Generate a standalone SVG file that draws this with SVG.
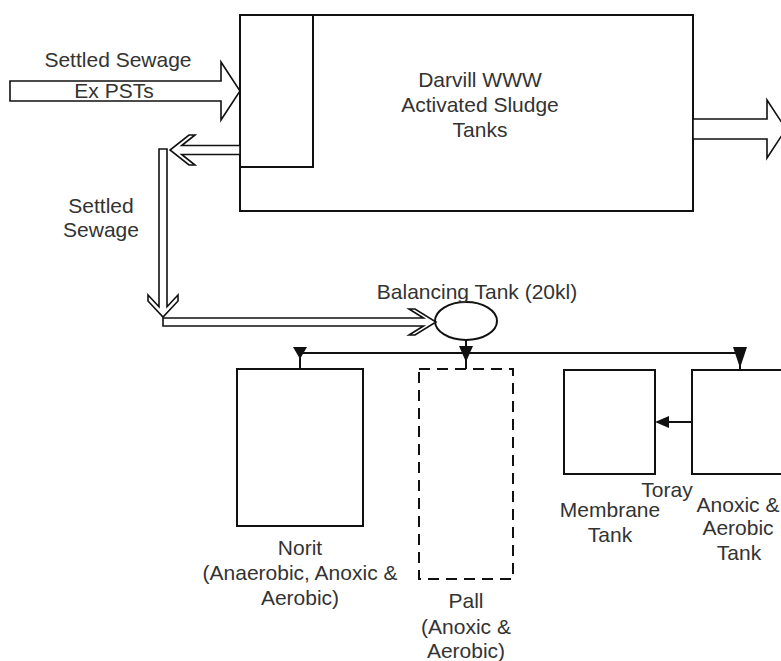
<svg xmlns="http://www.w3.org/2000/svg" width="781" height="661" viewBox="0 0 781 661">
<style>
.box{fill:#fff;stroke:#111;stroke-width:2}
.dash{fill:none;stroke:#111;stroke-width:2;stroke-dasharray:11 7}
.hollow{fill:#fff;stroke:#111;stroke-width:1.6;stroke-linejoin:miter}
.line{fill:none;stroke:#111;stroke-width:2}
.tri{fill:#111;stroke:none}
text{font-family:"Liberation Sans",Arial,sans-serif;font-size:21px;fill:#333;text-anchor:middle}
</style>
<rect width="781" height="661" fill="#fff"/>
<g id="activated-sludge">
<rect class="box" x="240" y="15" width="453" height="196"/>
<rect class="box" x="240" y="15" width="73" height="152"/>
<text x="480" y="87">Darvill WWW</text>
<text x="480" y="112">Activated Sludge</text>
<text x="480" y="137">Tanks</text>
</g>
<g id="balancing-tank">
<ellipse class="box" cx="466" cy="321" rx="31" ry="19"/>
<text x="477" y="299">Balancing Tank (20kl)</text>
</g>
<g id="norit">
<rect class="box" x="237" y="369" width="126" height="157"/>
<text x="300" y="555">Norit</text>
<text x="300" y="580">(Anaerobic, Anoxic &amp;</text>
<text x="300" y="605">Aerobic)</text>
</g>
<g id="pall">
<rect class="dash" x="419" y="369" width="94" height="210"/>
<text x="466" y="608">Pall</text>
<text x="466" y="634">(Anoxic &amp;</text>
<text x="466" y="658">Aerobic)</text>
</g>
<g id="membrane-tank">
<rect class="box" x="564" y="370" width="91" height="104"/>
<text x="667" y="497">Toray</text>
<text x="610" y="517">Membrane</text>
<text x="610" y="542">Tank</text>
</g>
<g id="anoxic-aerobic-tank">
<rect class="box" x="692" y="370" width="110" height="104"/>
<text x="738" y="512">Anoxic &amp;</text>
<text x="738" y="535">Aerobic</text>
<text x="739" y="560">Tank</text>
</g>
<g id="connectors">
<polygon class="hollow" points="10,81 221,81 221,62 240,91 221,120 221,101 10,101"/>
<polygon class="hollow" points="693,119 767,119 767,100 786,129 767,158 767,139 693,139"/>
<polygon class="hollow" points="240,145.5 181.7,145.5 195,135 189,135 170,150 189,165 195,165 181.7,154.5 240,154.5"/>
<polygon class="hollow" points="159,149 159,306.7 148,295 148,301 163,317 178,301 178,295 167,306.7 167,149"/>
<polygon class="hollow" points="163,318 423.5,318 409,309 415,309 436,322 415,335 409,335 423.5,326 163,326"/>
<line class="line" x1="300" y1="353" x2="740" y2="353"/>
<line class="line" x1="300" y1="353" x2="300" y2="369"/>
<polygon class="tri" points="293,347 307,347 300,359"/>
<line class="line" x1="466" y1="340" x2="466" y2="369"/>
<polygon class="tri" points="459,346 473,346 466,362"/>
<line class="line" x1="740" y1="353" x2="740" y2="370"/>
<polygon class="tri" points="733,347 747,347 740,368"/>
<line class="line" x1="692" y1="422" x2="667" y2="422"/>
<polygon class="tri" points="655,422 669,416 669,428"/>
</g>
<g id="labels">
<text x="118" y="67">Settled Sewage</text>
<text x="114" y="98">Ex PSTs</text>
<text x="101" y="213">Settled</text>
<text x="101" y="237">Sewage</text>
</g>
</svg>
